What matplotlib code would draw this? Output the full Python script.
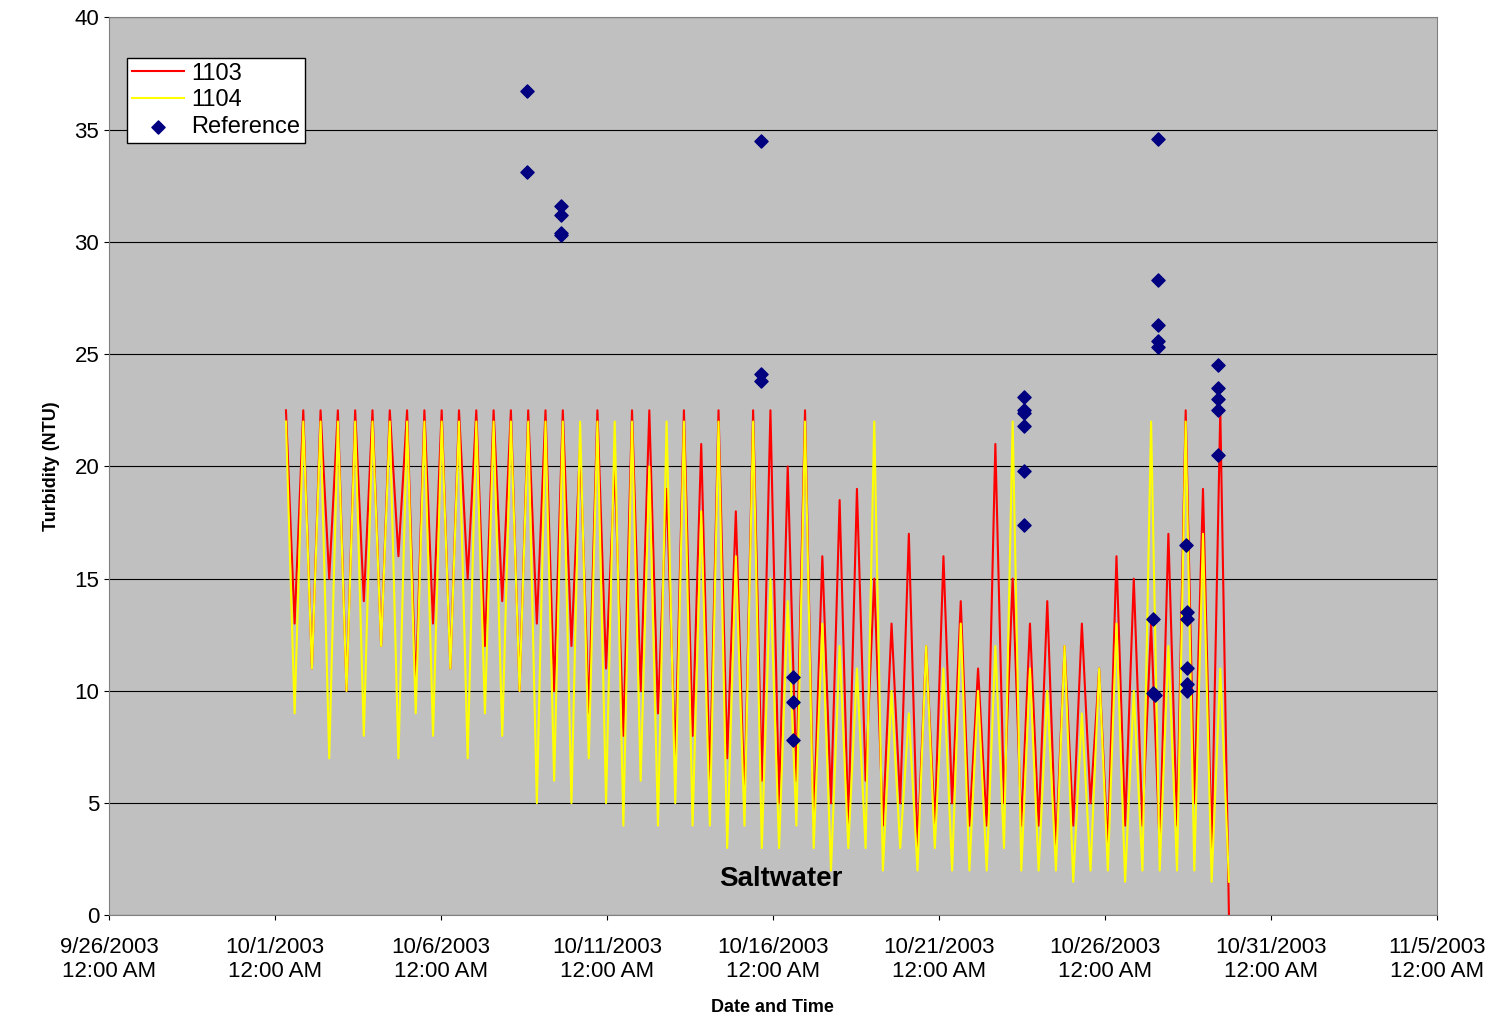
import matplotlib
matplotlib.use("Agg")
import matplotlib.pyplot as plt
from datetime import datetime, timedelta

plt.rcParams['font.family'] = ['Liberation Sans', 'DejaVu Sans']

start = datetime(2003, 10, 1, 8, 0)
half_cycle_days = 0.2606

red_peaks = [22.5]*15 + [22.5,22.5,21,22.5,20,22.5,22.5,19,22.5,21,22.5,18,22.5,22.5,20,
             22.5,16,18.5,19,15,13,17,12,16,14,11,21,15,
             13,14,12,13,11,16,15,13,17,22.5,19,22.5]
red_troughs = [13,11,15,10,14,12,16,10,13,11,15,12,14,10,13,
               10,12,9,11,8,10,9,7,8,6,7,5,6,5,6,
               4,5,4,6,4,5,3,4,5,4,4,5,4,
               4,3,4,5,3,4,4,3,4,5,3,0]
yel_peaks = [22]*15 + [22,22,22,22,22,22,20,22,22,18,22,16,22,15,14,
             22,13,12,11,22,10,9,12,11,13,10,12,22,
             11,10,12,9,11,13,10,22,12,22,17,11]
yel_troughs = [9,11,7,10,8,12,7,9,8,11,7,9,8,10,5,
               6,5,7,5,4,6,4,5,4,4,3,4,3,3,4,
               3,2,3,3,2,3,2,3,2,2,2,3,2,
               2,2,1.5,2,2,1.5,2,2,2,2,1.5,1.5]

ref_days = [12.59,12.59,13.61,13.61,13.61,13.61,19.64,19.64,19.64,20.6,20.6,20.6,
            27.56,27.56,27.56,27.56,27.56,27.56,31.6,31.6,31.6,31.6,31.6,31.45,31.45,31.5,
            32.44,32.47,32.47,32.47,32.47,32.47,33.4,33.4,33.4,33.4,33.4]
ref_vals = [36.7,33.1,31.6,31.2,30.4,30.3,34.5,24.1,23.8,10.6,9.5,7.8,
            23.1,22.5,22.4,21.8,19.8,17.4,34.6,28.3,26.3,25.6,25.3,13.2,9.9,9.8,
            16.5,13.5,13.2,11.0,10.3,10.0,24.5,23.5,23.0,22.5,20.5]

def interleave(p, t):
    out = []
    for a, b in zip(p, t):
        out += [a, b]
    return out

red = interleave(red_peaks, red_troughs)
yel = interleave(yel_peaks, yel_troughs)
t_red = [start + timedelta(days=i*half_cycle_days) for i in range(len(red))]
t_yel = [start + timedelta(days=i*half_cycle_days) for i in range(len(yel))]
base = datetime(2003, 9, 26)
t_ref = [base + timedelta(days=d) for d in ref_days]

fig = plt.figure(figsize=(14.92, 10.24), dpi=100)
ax = fig.add_axes([0.073, 0.106, 0.89, 0.877])
ax.set_facecolor("#C0C0C0")
ax.plot(t_red, red, color="red", lw=1.5, label="1103")
ax.plot(t_yel, yel, color="yellow", lw=1.5, label="1104")
ax.scatter(t_ref, ref_vals, marker="D", s=45, color="#000080", label="Reference", zorder=5)
ax.set_xlim(base, datetime(2003, 11, 5))
ax.set_ylim(0, 40)
ax.set_yticks(range(0, 41, 5))
ticks = [base + timedelta(days=5*i) for i in range(9)]
ax.set_xticks(ticks)
ax.set_xticklabels([f"{d.month}/{d.day}/{d.year}\n12:00 AM" for d in ticks], fontsize=16)
ax.tick_params(axis="y", labelsize=16)
ax.tick_params(axis="x", pad=12)
ax.yaxis.grid(True, color="black", lw=0.8)
ax.set_axisbelow(True)
ax.set_xlabel("Date and Time", fontsize=13, fontweight="bold", labelpad=12)
ax.set_ylabel("Turbidity (NTU)", fontsize=13, fontweight="bold", labelpad=10)
ax.text(datetime(2003, 10, 16, 6), 1.3, "Saltwater", fontsize=20, fontweight="bold", ha="center")
leg = ax.legend(loc="upper left", bbox_to_anchor=(0.005, 0.968), fontsize=17, fancybox=False,
                edgecolor="black", framealpha=1, handlelength=2.2, borderpad=0.2,
                labelspacing=0.2, handletextpad=0.3)
for s in ax.spines.values():
    s.set_color("#808080")
fig.savefig("out.png", dpi=100, facecolor="white")
